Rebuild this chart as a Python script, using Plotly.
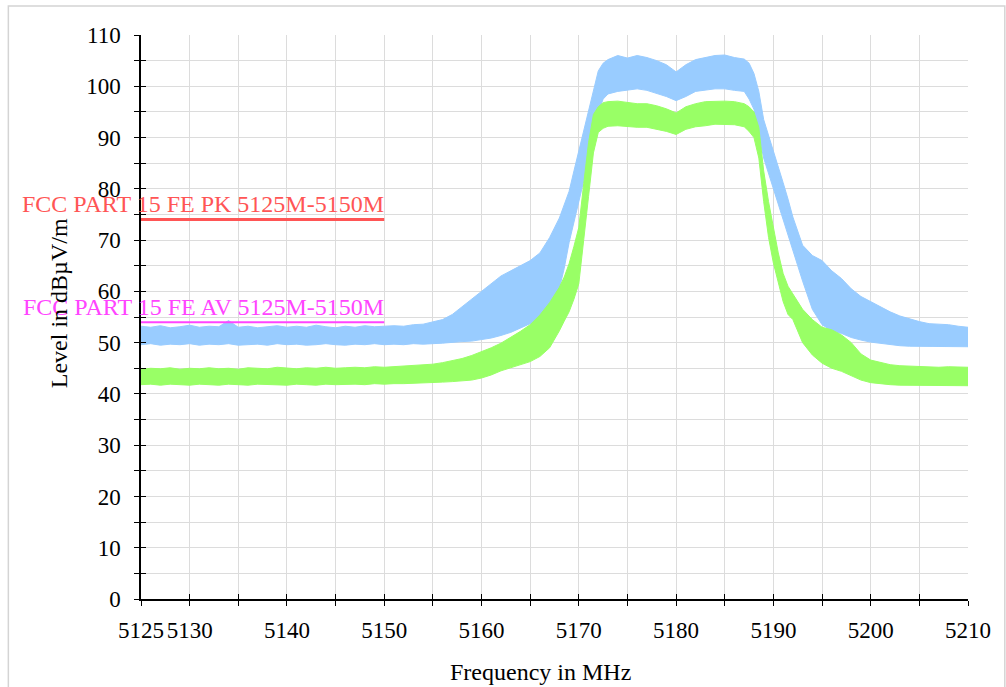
import plotly.graph_objects as go

# Frequency grid of the scan (MHz); finer steps on the steep channel edges
freq = (
    list(range(5125, 5169))
    + [5168.5, 5169, 5169.5, 5170, 5170.5, 5171, 5171.5, 5172, 5172.5]
    + list(range(5173, 5188))
    + [5187.5, 5188, 5188.5, 5189, 5189.5, 5190, 5190.5, 5191, 5191.5]
    + list(range(5192, 5211))
)

# Peak detector trace: upper / lower envelope (dBµV/m)
pk_hi = [
    53.2, 53.0, 53.3, 52.9, 53.1, 53.4, 53.0, 53.2, 53.1, 54.3,
    53.0, 53.2, 52.9, 53.1, 53.3, 53.0, 53.2, 53.0, 53.4, 53.1,
    52.9, 53.2, 53.0, 53.3, 53.1, 53.2, 53.3, 53.2, 53.5, 53.6,
    54.0, 54.5, 55.5, 57.0, 58.5, 60.0, 61.5, 63.0, 64.0, 65.0,
    66.0, 67.5, 70.5, 74.3,
    77.0, 79.5, 83.5, 87.5, 91.5, 95.5, 99.5, 103.0, 104.5,
    105.2, 106.0, 105.5, 106.0, 105.6, 105.0, 104.2, 102.8, 104.2, 105.2,
    105.6, 106.0, 106.1, 105.6, 105.3,
    104.5, 102.5, 99.0, 93.5, 90.5, 87.5, 84.5, 81.2, 78.0,
    74.5, 69.0, 67.0, 66.0, 64.0, 62.5, 60.5, 59.0, 58.0, 57.0,
    56.0, 55.2, 54.6, 54.1, 53.7, 53.6, 53.5, 53.2, 53.0,
]
pk_lo = [
    49.6, 49.8, 49.5, 49.7, 49.6, 49.8, 49.5, 49.7, 49.6, 49.8,
    49.5, 49.6, 49.7, 49.5, 49.8, 49.6, 49.7, 49.5, 49.6, 49.8,
    49.6, 49.5, 49.7, 49.6, 49.8, 49.6, 49.7, 49.6, 49.8, 49.7,
    49.8, 49.9, 50.0, 50.2, 50.3, 50.6, 50.9, 51.4, 52.0, 52.8,
    53.7, 54.6, 56.5, 60.5,
    64.5, 69.5, 73.5, 77.5, 81.5, 85.5, 90.5, 95.0, 97.5,
    98.5, 99.0, 99.2, 99.5, 99.2, 98.6, 98.0, 97.2, 98.0, 99.0,
    99.2, 99.5, 99.5, 99.2, 99.0,
    97.5, 95.5, 90.5, 86.0, 83.2, 79.8, 77.0, 74.0, 71.0,
    68.0, 62.0, 56.5, 53.5, 52.3, 51.8, 51.0, 50.5, 50.1, 49.8,
    49.6, 49.4, 49.3, 49.3, 49.3, 49.3, 49.2, 49.2, 49.2,
]

# Average detector trace: upper / lower envelope (dBµV/m)
av_hi = [
    44.8, 45.0, 44.9, 45.1, 44.8, 45.0, 44.9, 45.1, 44.9, 45.0,
    44.8, 45.1, 45.0, 44.9, 45.2, 45.0, 44.9, 45.1, 45.0, 45.2,
    45.0, 45.1, 45.2, 45.1, 45.3, 45.2, 45.3, 45.4, 45.5, 45.6,
    45.8, 46.1, 46.5, 46.9, 47.5, 48.2, 49.0, 49.9, 51.0, 52.2,
    53.5, 55.4, 57.8, 60.8,
    62.8, 65.4, 68.8, 72.5, 81.0, 89.0, 94.5, 96.0, 96.8,
    97.0, 97.1, 96.8, 96.6, 96.6, 96.2, 95.6, 94.8, 96.0, 96.6,
    97.0, 97.1, 97.1, 97.0, 96.6,
    96.0, 95.0, 92.0, 83.5, 77.5, 72.5, 67.5, 63.5, 61.0,
    59.5, 56.5, 54.5, 53.0, 52.5, 51.5, 50.0, 47.8, 46.6, 46.1,
    45.7, 45.5, 45.4, 45.3, 45.3, 45.2, 45.3, 45.2, 45.2,
]
av_lo = [
    41.8, 41.9, 41.7, 41.9, 41.8, 41.7, 41.9, 41.8, 41.7, 41.9,
    41.8, 41.7, 41.9, 41.8, 41.8, 41.7, 41.9, 41.8, 41.7, 41.9,
    41.8, 41.8, 41.9, 41.8, 42.0, 41.9, 42.0, 42.0, 42.1, 42.1,
    42.2, 42.3, 42.4, 42.5, 42.7, 43.1, 43.7, 44.5, 45.1, 45.7,
    46.3, 47.3, 49.0, 52.3,
    54.2, 56.0, 58.5, 61.5, 69.5, 78.5, 87.0, 91.0, 91.8,
    92.2, 92.3, 92.1, 92.0, 92.0, 91.6, 91.2, 90.6, 91.6, 92.1,
    92.3, 92.6, 92.6, 92.5, 92.1,
    91.2, 90.0, 86.0, 77.5, 70.5, 65.5, 61.5, 58.0, 55.5,
    54.5, 50.0, 47.6, 46.0, 45.0, 44.4, 43.6, 42.7, 42.2, 42.0,
    41.8, 41.7, 41.7, 41.6, 41.6, 41.6, 41.6, 41.6, 41.6,
]

for arr in (pk_hi, pk_lo, av_hi, av_lo):
    assert len(arr) == len(freq)

# Limit lines (frequency span, level, label)
pk_limit_span = [5125, 5150]
pk_limit_level = 74
pk_limit_label = "FCC PART 15 FE PK 5125M-5150M"
av_limit_span = [5125, 5150]
av_limit_level = 54
av_limit_label = "FCC PART 15 FE AV 5125M-5150M"

# Axis ticks
x_tick_vals = list(range(5125, 5211, 5))
x_tick_text = [str(v) if (v == 5125 or v % 10 == 0) else "" for v in x_tick_vals]
y_tick_vals = list(range(0, 111, 5))
y_tick_text = [str(v) if v % 10 == 0 else "" for v in y_tick_vals]

SERIF = "Liberation Serif, Times New Roman, serif"
PK_COLOR = "#99CCFF"
AV_COLOR = "#99FF66"
PK_LIMIT_COLOR = "#FF5555"
AV_LIMIT_COLOR = "#FF44FF"

fig = go.Figure()


def band(x, hi, lo, color, name):
    return go.Scatter(
        x=list(x) + list(x)[::-1],
        y=list(hi) + list(lo)[::-1],
        fill="toself",
        fillcolor=color,
        line=dict(color=color, width=1),
        mode="lines",
        name=name,
        hoverinfo="skip",
        showlegend=False,
    )


fig.add_trace(band(freq, pk_hi, pk_lo, PK_COLOR, "Peak"))
fig.add_trace(band(freq, av_hi, av_lo, AV_COLOR, "Average"))

fig.add_trace(go.Scatter(
    x=pk_limit_span, y=[pk_limit_level] * 2, mode="lines",
    line=dict(color=PK_LIMIT_COLOR, width=3), showlegend=False,
))
fig.add_trace(go.Scatter(
    x=av_limit_span, y=[av_limit_level] * 2, mode="lines",
    line=dict(color=AV_LIMIT_COLOR, width=2), showlegend=False,
))

# invisible trace on the overlay axes that draw the inner half of the ticks
fig.add_trace(go.Scatter(x=[5125], y=[0], xaxis="x2", yaxis="y2",
                         mode="markers", marker=dict(opacity=0),
                         hoverinfo="skip", showlegend=False))

fig.add_annotation(x=pk_limit_span[1], y=pk_limit_level, text=pk_limit_label,
                   xanchor="right", yanchor="bottom", showarrow=False,
                   yshift=1, xshift=2,
                   font=dict(family=SERIF, size=24, color=PK_LIMIT_COLOR))
fig.add_annotation(x=av_limit_span[1], y=av_limit_level, text=av_limit_label,
                   xanchor="right", yanchor="bottom", showarrow=False,
                   yshift=0, xshift=2,
                   font=dict(family=SERIF, size=24, color=AV_LIMIT_COLOR))

# axis titles
fig.add_annotation(x=-0.0988, y=0.525, xref="paper", yref="paper",
                   text="Level in dBµV/m", textangle=-90, showarrow=False,
                   xanchor="center", yanchor="middle",
                   font=dict(family=SERIF, size=24, color="black"))
fig.add_annotation(x=0.4827, y=-0.1294, xref="paper", yref="paper",
                   text="Frequency in MHz", showarrow=False,
                   xanchor="center", yanchor="middle",
                   font=dict(family=SERIF, size=24, color="black"))

# outer frame
fig.add_shape(type="rect", xref="paper", yref="paper",
              x0=-0.1604, x1=1.0445, y0=-0.2, y1=1.0514,
              line=dict(color="#d4d4d4", width=1.5), layer="below")

axis_common = dict(
    showline=True, linecolor="black", linewidth=1.5,
    gridcolor="#dcdcdc", gridwidth=1,
    ticks="outside", ticklen=5, tickwidth=1.2, tickcolor="black",
    tickfont=dict(family=SERIF, size=23, color="black"),
    zeroline=False,
)

fig.update_layout(
    width=1006, height=687,
    margin=dict(l=141, r=38, t=35, b=88),
    paper_bgcolor="white", plot_bgcolor="white",
    xaxis=dict(range=[5125, 5210], tickmode="array",
               tickvals=x_tick_vals, ticktext=x_tick_text,
               ticklabelstandoff=5, **axis_common),
    yaxis=dict(range=[0, 110], tickmode="array",
               tickvals=y_tick_vals, ticktext=y_tick_text,
               ticklabelstandoff=9, **axis_common),
    xaxis2=dict(range=[5125, 5210], overlaying="x", anchor="y",
                tickmode="array", tickvals=x_tick_vals, ticks="inside",
                ticklen=5, tickwidth=1.2, tickcolor="black",
                showticklabels=False, showgrid=False, showline=False,
                zeroline=False, side="bottom"),
    yaxis2=dict(range=[0, 110], overlaying="y", anchor="x",
                tickmode="array", tickvals=y_tick_vals, ticks="inside",
                ticklen=5, tickwidth=1.2, tickcolor="black",
                showticklabels=False, showgrid=False, showline=False,
                zeroline=False, side="left"),
    showlegend=False,
)

fig.write_html("out.html")
